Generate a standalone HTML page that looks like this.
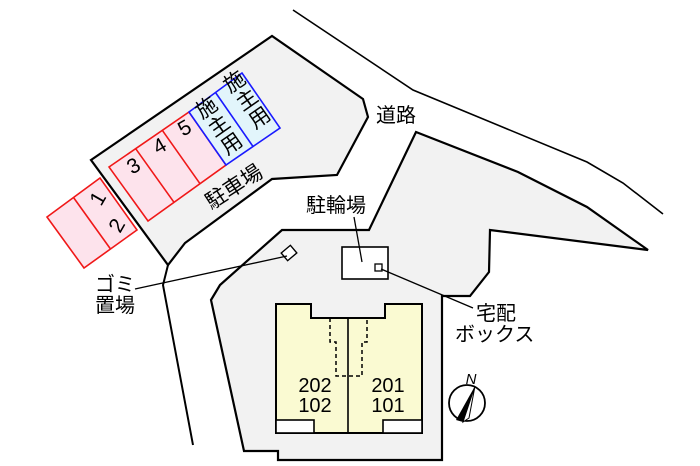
<!DOCTYPE html>
<html><head><meta charset="utf-8"><style>
html,body{margin:0;padding:0;background:#fff;}
svg{display:block;}
text{font-family:"Liberation Sans","Noto Sans CJK JP",sans-serif;fill:#000;}
</style></head><body>
<svg width="700" height="466" viewBox="0 0 700 466" xmlns="http://www.w3.org/2000/svg">
<polyline points="293,10 413,90 587,162 623,183 663,214" fill="none" stroke="#000" stroke-width="1.6"/>
<polygon points="91,160 272,36 363,99 368,117 337,175 272,179 185,243 168,265" fill="#f2f2f2" stroke="#000" stroke-width="2.2"/>
<polyline points="168,265 163,285 193,445" fill="none" stroke="#000" stroke-width="2"/>
<polygon points="416,132 518,172 587,207 648,250 490,230 489,272 470,296 442,296 442,460 278,460 278,451 244,451 211,300 220,285 282,230 369,230" fill="#f2f2f2" stroke="#000" stroke-width="2.2"/>
<polygon points="109,167 189,112 226,165 148,221" fill="#fde3ec" stroke="#f01818" stroke-width="1.6"/>
<line x1="135.7" y1="148.7" x2="174" y2="202.3" stroke="#f01818" stroke-width="1.6"/>
<line x1="162.3" y1="130.3" x2="200" y2="183.7" stroke="#f01818" stroke-width="1.6"/>
<polygon points="189,112 242,73 280,128 226,165" fill="#e2f5fb" stroke="#1a1aff" stroke-width="1.6"/>
<line x1="215.5" y1="92.5" x2="253" y2="146.5" stroke="#1a1aff" stroke-width="1.6"/>
<polygon points="47,217 100,178 137,230 84,268" fill="#fde3ec" stroke="#f01818" stroke-width="1.6"/>
<line x1="73.5" y1="197.5" x2="110.5" y2="249" stroke="#f01818" stroke-width="1.6"/>
<g font-size="21">
<text x="133" y="173" text-anchor="middle" transform="rotate(-30 133 165)">3</text>
<text x="159" y="153" text-anchor="middle" transform="rotate(-30 159 145)">4</text>
<text x="184" y="135" text-anchor="middle" transform="rotate(-30 184 127)">5</text>
<text x="97" y="206" text-anchor="middle" transform="rotate(-60 97 198)">1</text>
<text x="116" y="233" text-anchor="middle" transform="rotate(-60 116 225)">2</text>
</g>
<g font-size="21" transform="rotate(-35 222 130)">
<text x="222" y="110" text-anchor="middle">施</text>
<text x="222" y="132" text-anchor="middle">主</text>
<text x="222" y="154" text-anchor="middle">用</text>
</g>
<g font-size="21" transform="rotate(-35 250 104)">
<text x="250" y="84" text-anchor="middle">施</text>
<text x="250" y="106" text-anchor="middle">主</text>
<text x="250" y="128" text-anchor="middle">用</text>
</g>
<text x="234" y="194" font-size="21" text-anchor="middle" transform="rotate(-33 234 187)">駐車場</text>
<text x="376" y="122" font-size="20">道路</text>
<text x="306" y="212" font-size="20">駐輪場</text>
<rect x="342" y="247" width="46" height="32" fill="#fff" stroke="#000" stroke-width="1.6"/>
<rect x="375" y="264" width="7" height="7" fill="#fff" stroke="#000" stroke-width="1.3"/>
<line x1="354" y1="217" x2="362" y2="262" stroke="#000" stroke-width="1.3"/>
<line x1="381" y1="269" x2="473" y2="308" stroke="#000" stroke-width="1.3"/>
<text x="476" y="320" font-size="20">宅配</text>
<text x="455" y="341" font-size="20">ボックス</text>
<rect x="283" y="248" width="12" height="10" fill="#fff" stroke="#000" stroke-width="1.4" transform="rotate(-40 289 253)"/>
<line x1="287" y1="256" x2="135" y2="289" stroke="#000" stroke-width="1.4"/>
<text x="95" y="291" font-size="20">ゴミ</text>
<text x="95" y="312" font-size="20">置場</text>
<polygon points="276,304 311,304 311,318 385,318 385,304 422,304 422,433 276,433" fill="#fafad2" stroke="#000" stroke-width="2"/>
<line x1="348" y1="318" x2="348" y2="433" stroke="#000" stroke-width="1.6"/>
<rect x="276" y="420" width="38" height="13" fill="#fff" stroke="#000" stroke-width="1.6"/>
<rect x="383" y="420" width="39" height="13" fill="#fff" stroke="#000" stroke-width="1.6"/>
<polyline points="330,318 330,342 336,342 336,376 362,376 362,342 367,342 367,318" fill="none" stroke="#000" stroke-width="1.5" stroke-dasharray="4,3"/>
<g font-size="20" text-anchor="middle">
<text x="315" y="392">202</text><text x="315" y="412">102</text>
<text x="388" y="392">201</text><text x="388" y="412">101</text>
</g>
<circle cx="467" cy="403" r="18" fill="#fff" stroke="#000" stroke-width="1.8"/>
<polygon points="475,386 456,420 463,422" fill="#000"/>
<polygon points="475,386 463,422 469,418" fill="#fff" stroke="#000" stroke-width="1"/>
<text x="471" y="384" font-size="15" font-style="italic" text-anchor="middle">N</text>
</svg>
</body></html>
